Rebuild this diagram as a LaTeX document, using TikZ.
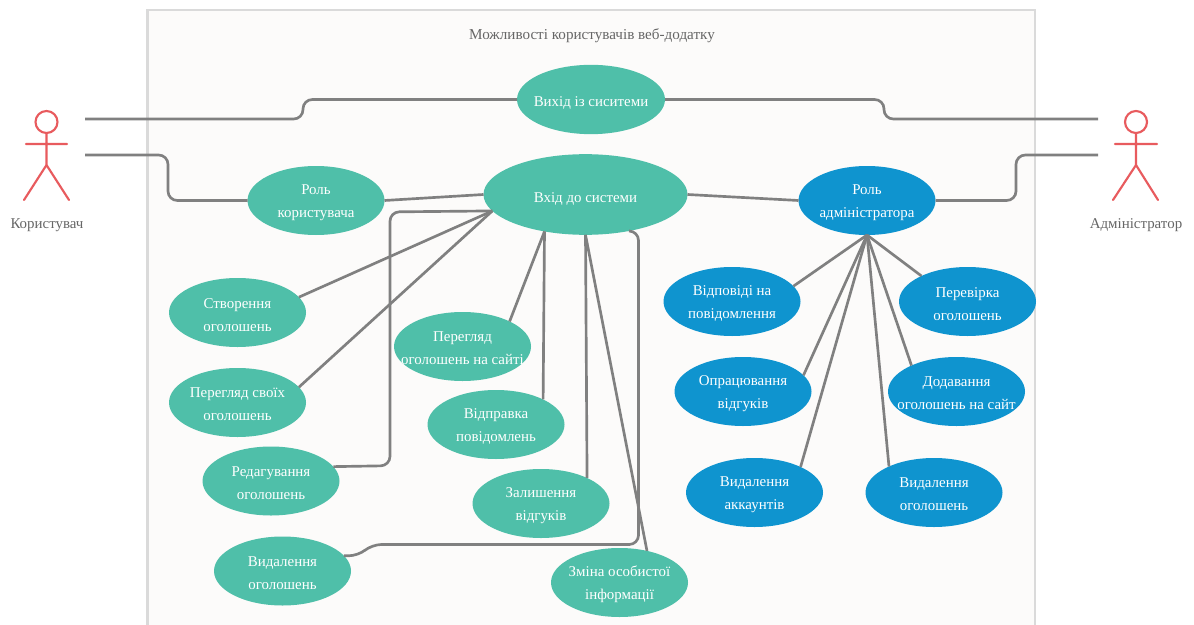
\documentclass[tikz,border=0pt]{standalone}
\usepackage{fontspec}
\setmainfont{Liberation Serif}
\usetikzlibrary{shapes.geometric}
\definecolor{ucgreen}{HTML}{4FBFA9}
\definecolor{ucblue}{HTML}{0F94CF}
\definecolor{conn}{HTML}{808080}
\definecolor{actorred}{HTML}{E85B5E}
\definecolor{framegray}{HTML}{DADADA}
\definecolor{framefill}{HTML}{FCFBFA}
\definecolor{txtgray}{HTML}{666666}
\tikzset{
  x=0.75pt,y=-0.75pt,
  ucbase/.style={ellipse,inner sep=0pt,outer sep=0pt,minimum width=102.75pt,minimum height=51.75pt},
  uctext/.style={align=center,text=white,inner sep=0pt,yshift=-1.6pt,font=\fontsize{11.2}{17.25}\selectfont},
  uctextone/.style={uctext,yshift=-1.4pt},
  ucgreen case/.style={ucbase,fill=ucgreen},
  ucblue case/.style={ucbase,fill=ucblue},
  link/.style={draw=conn,line width=2pt},
  bend link/.style={link,rounded corners=7pt},
  actorline/.style={draw=actorred,line width=1.6pt,line cap=round},
  plain/.style={text=txtgray,inner sep=0pt,font=\fontsize{11.2}{13}\selectfont},
}
\newcommand{\uc}[4]{\node[#1 case,label={[uctext]center:{#4}}] (#2) at #3 {};}
\begin{document}
\begin{tikzpicture}
\clip (0,0) rectangle (1194,624);
\fill[white] (0,0) rectangle (1194,624);
\draw[draw=framegray,fill=framefill,line width=2.2pt] (147.5,10) rectangle (1035,660);
\node[plain,font=\fontsize{11.35}{13}\selectfont] (title) at (592,35.5) {Можливості користувачів веб-додатку};

% use cases
\node[ucgreen case,minimum width=111pt,minimum height=52pt,label={[uctextone]center:{Вихід із сиситеми}}] (logout) at (591,99.5) {};
\node[ucgreen case,minimum width=153pt,minimum height=60.5pt,label={[uctextone]center:{Вхід до системи}}] (login) at (585.5,194.5) {};
\uc{ucgreen}{roleuser}{(316,200.5)}{Роль\\користувача}
\uc{ucblue}{roleadmin}{(867,200.5)}{Роль\\адміністратора}
\uc{ucgreen}{create}{(237.5,312.5)}{Створення\\оголошень}
\uc{ucgreen}{own}{(237.5,402.5)}{Перегляд своїх\\оголошень}
\uc{ucgreen}{edit}{(271,481)}{Редагування\\оголошень}
\uc{ucgreen}{del}{(282.5,571)}{Видалення\\оголошень}
\uc{ucgreen}{browse}{(462.5,346.5)}{Перегляд\\оголошень на сайті}
\uc{ucgreen}{send}{(496,424.5)}{Відправка\\повідомлень}
\uc{ucgreen}{review}{(541,503.5)}{Залишення\\відгуків}
\uc{ucgreen}{profile}{(619.5,582.5)}{Зміна особистої\\інформації}
\uc{ucblue}{reply}{(732,301.5)}{Відповіді на\\повідомлення}
\uc{ucblue}{check}{(967.5,301.5)}{Перевірка\\оголошень}
\uc{ucblue}{process}{(743,391.5)}{Опрацювання\\відгуків}
\uc{ucblue}{add}{(956.5,391.5)}{Додавання\\оголошень на сайт}
\uc{ucblue}{delacc}{(754.5,492.5)}{Видалення\\аккаунтів}
\uc{ucblue}{delad}{(934,492.5)}{Видалення\\оголошень}

% actors
\node[circle,draw=actorred,line width=1.6pt,minimum size=16.5pt,inner sep=0pt] (headL) at (46.5,122) {};
\coordinate (hipL) at (46.5,165);
\coordinate (armLa) at (26,144);
\coordinate (armLb) at (67,144);
\coordinate (footLa) at (24,200);
\coordinate (footLb) at (69,200);
\draw[actorline] (headL.south) -- (hipL) (armLa) -- (armLb) (footLa) -- (hipL) -- (footLb);
\node[plain] (userlabel) at (47,225) {Користувач};

\node[circle,draw=actorred,line width=1.6pt,minimum size=16.5pt,inner sep=0pt] (headR) at (1136,122) {};
\coordinate (hipR) at (1136,165);
\coordinate (armRa) at (1115,144);
\coordinate (armRb) at (1157,144);
\coordinate (footRa) at (1113,200);
\coordinate (footRb) at (1158,200);
\draw[actorline] (headR.south) -- (hipR) (armRa) -- (armRb) (footRa) -- (hipR) -- (footRb);
\node[plain] (adminlabel) at (1136,225) {Адміністратор};

% free ends
\coordinate (la) at (85,119);
\coordinate (lb) at (85,155);
\coordinate (ra) at (1098,119);
\coordinate (rb) at (1098,155);

% actor connectors
\draw[bend link] (la) -- (303,119) -- (303,99.5) -- (logout.west);
\draw[bend link] (ra) -- (884,119) -- (884,99.5) -- (logout.east);
\draw[bend link] (lb) -- (168,155) -- (168,200.5) -- (roleuser.west);
\draw[bend link] (rb) -- (1016,155) -- (1016,200.5) -- (roleadmin.east);

% role links
\draw[link] (roleuser.east) -- (login.west);
\draw[link] (login.east) -- (roleadmin.west);

% login links
\draw[link] (login.190.7) -- (create.14.2);
\draw[link] (login.190.7) -- (own.14.1);
\draw[bend link] (edit.13.8) -- (390,465.7) -- (390,211.9) -- (login.190.7);
\draw[link] (login.222.8) -- (browse.28.3);
\draw[link] (login.222.8) -- (send.28);
\draw[link] (login.south) -- (review.29);
\draw[link] (login.south) -- (profile.49.8);
\draw[bend link] (del.14) -- (358,555.9) -- (372,544.5) -- (638.5,544.5) -- (638.5,231.2) -- (login.-40.5);

% admin links
\draw[link] (roleadmin.south) -- (reply.14.3);
\draw[link] (roleadmin.south) -- (check.151.8);
\draw[link] (roleadmin.south) -- (process.15.1);
\draw[link] (roleadmin.south) -- (add.150.3);
\draw[link] (roleadmin.south) -- (delacc.29.7);
\draw[link] (roleadmin.south) -- (delad.150);
\end{tikzpicture}
\end{document}
